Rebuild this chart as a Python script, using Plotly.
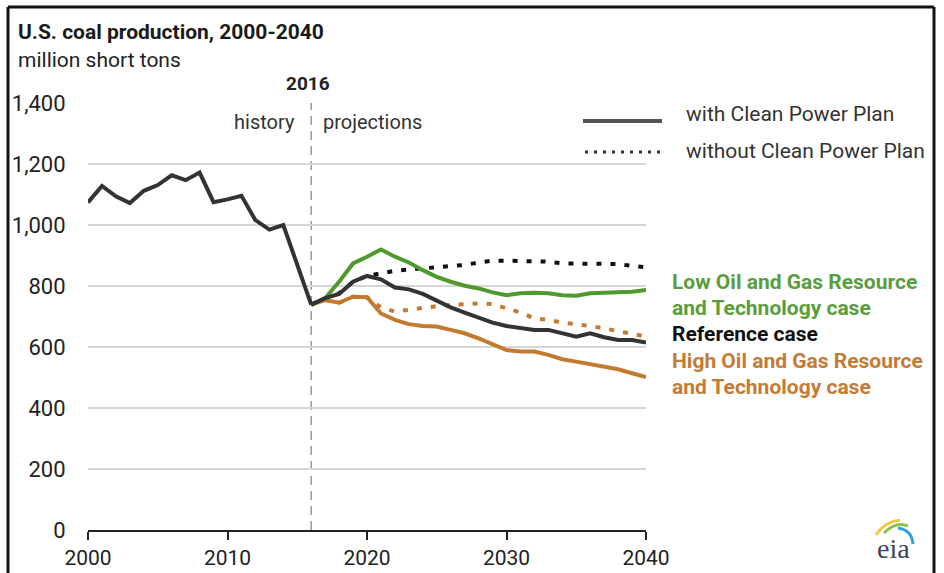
import plotly.graph_objects as go

# ---- data (million short tons) ----
hist_years = list(range(2000, 2017))
hist_values = [1074, 1128, 1094, 1072, 1112, 1131, 1163, 1147, 1172, 1075,
               1084, 1096, 1016, 985, 1000, 872, 739]

proj_years = list(range(2016, 2041))
ref_cpp = [739, 760, 774, 814, 833, 822, 795, 789, 774, 751, 730, 713, 697,
           680, 669, 661, 656, 656, 645, 634, 645, 632, 623, 623, 615]
ref_no_cpp = [739, 760, 776, 814, 833, 841, 850, 854, 858, 861, 866, 869, 877,
              883, 883, 883, 883, 880, 874, 874, 874, 874, 872, 866, 861]
low_cpp = [739, 760, 814, 874, 896, 920, 896, 877, 852, 830, 814, 801, 792,
           779, 770, 776, 778, 776, 770, 768, 776, 778, 778, 781, 787]
high_cpp = [739, 754, 745, 765, 763, 710, 689, 675, 669, 667, 656, 645, 628,
            610, 590, 585, 585, 574, 560, 552, 544, 535, 527, 514, 501]
high_no_cpp = [739, 754, 745, 765, 763, 730, 716, 723, 730, 734, 738, 741, 743,
               741, 727, 713, 694, 689, 680, 675, 669, 661, 653, 645, 634]

y_ticks = [0, 200, 400, 600, 800, 1000, 1200, 1400]
x_ticks = [2000, 2010, 2020, 2030, 2040]

GREEN = "#4f9a2c"
BLACK = "#333333"
ORANGE = "#c47a2e"
FONT = "Liberation Sans Narrow, Arial Narrow, Roboto, Liberation Sans, sans-serif"

W, H = 944, 573
L, R, T, B = 88, 646, 103, 530


def px(x):
    return (x - L) / (R - L)


def py(y):
    return (B - y) / (B - T)


fig = go.Figure()

dots = "5px,9px"
fig.add_trace(go.Scatter(x=proj_years, y=high_no_cpp, mode="lines",
                         line=dict(color=ORANGE, width=4, dash=dots)))
fig.add_trace(go.Scatter(x=proj_years, y=ref_no_cpp, mode="lines",
                         line=dict(color="#111111", width=4, dash=dots)))
fig.add_trace(go.Scatter(x=proj_years, y=high_cpp, mode="lines",
                         line=dict(color=ORANGE, width=4)))
fig.add_trace(go.Scatter(x=proj_years, y=low_cpp, mode="lines",
                         line=dict(color=GREEN, width=4)))
fig.add_trace(go.Scatter(x=proj_years, y=ref_cpp, mode="lines",
                         line=dict(color=BLACK, width=4)))
fig.add_trace(go.Scatter(x=hist_years, y=hist_values, mode="lines",
                         line=dict(color=BLACK, width=4)))

fig.update_layout(
    width=W, height=H,
    margin=dict(l=L, r=W - R, t=T, b=H - B, pad=0),
    paper_bgcolor="white", plot_bgcolor="white",
    showlegend=False,
    font=dict(family=FONT, color="#222222", size=19),
)
fig.update_xaxes(range=[2000, 2040], tickvals=x_ticks, showgrid=False,
                 showline=True, linecolor="#222222", linewidth=2,
                 ticks="outside", ticklen=8, tickwidth=2, tickcolor="#222222",
                 tickfont=dict(size=21, color="#222222"), zeroline=False,
                 automargin=False)
fig.update_yaxes(range=[0, 1400], tickvals=y_ticks, tickformat=",",
                 showgrid=True, gridcolor="#d6d6d6", gridwidth=1.5,
                 ticks="outside", ticklen=17, tickcolor="rgba(0,0,0,0)",
                 tickfont=dict(size=22, color="#222222"), zeroline=False,
                 showline=False, automargin=False)

# history / projections divider
fig.add_shape(type="line", x0=2016, x1=2016, y0=0, y1=1400, xref="x", yref="y",
              line=dict(color="#9a9a9a", width=1.5, dash="9px,6px"), layer="below")

# frame
frame = dict(color="#111111", width=3)
fig.add_shape(type="line", xref="paper", yref="paper", x0=px(8), x1=px(8),
              y0=py(7), y1=py(580), line=frame)
fig.add_shape(type="line", xref="paper", yref="paper", x0=px(8), x1=px(934),
              y0=py(7), y1=py(7), line=frame)
fig.add_shape(type="line", xref="paper", yref="paper", x0=px(934), x1=px(934),
              y0=py(7), y1=py(580), line=frame)

# legend samples
fig.add_shape(type="line", xref="paper", yref="paper", x0=px(583), x1=px(662),
              y0=py(121), y1=py(121), line=dict(color="#555555", width=4))
fig.add_shape(type="line", xref="paper", yref="paper", x0=px(585), x1=px(662),
              y0=py(152), y1=py(152), line=dict(color="#333333", width=3, dash="3px,6px"))


def note(text, x, y, size=19, color="#222222", anchor="left", bold=False, family=FONT):
    if bold:
        text = "<b>" + text + "</b>"
    fig.add_annotation(text=text, x=px(x), y=py(y), xref="paper", yref="paper",
                       xanchor=anchor, yanchor="middle", showarrow=False,
                       font=dict(size=size, color=color, family=family))


note("U.S. coal production, 2000-2040", 16, 32, size=21, color="#1a1a1a", bold=True)
note("million short tons", 16, 60, size=21)
note("2016", 308, 84, size=19, anchor="center", color="#222222", bold=True)
note("history", 297, 122, size=20, anchor="right", color="#333333")
note("projections", 321, 122, size=20, color="#333333")

note("with Clean Power Plan", 684, 114, size=21, color="#333333")
note("without Clean Power Plan", 684, 151, size=21, color="#333333")

note("Low Oil and Gas Resource", 670, 282, size=21, color="#5a9d3e", bold=True)
note("and Technology case", 670, 308, size=21, color="#5a9d3e", bold=True)
note("Reference case", 670, 334, size=21, color="#111111", bold=True)
note("High Oil and Gas Resource", 670, 361, size=21, color="#c47b35", bold=True)
note("and Technology case", 670, 387, size=21, color="#c47b35", bold=True)

# eia logo
note("eia", 893, 548, size=28, color="#3a4658", anchor="center",
     family="Liberation Serif, DejaVu Serif, serif")
swooshes = [("#f2c94c", (876, 535), (884, 522), (900, 520)),
            ("#8cc152", (884, 533), (896, 521), (908, 526)),
            ("#3aa0d8", (898, 528), (912, 530), (913, 544))]
for col, p0, pm, p1 in swooshes:
    fig.add_shape(type="path", xref="paper", yref="paper",
                  path=f"M {px(p0[0])},{py(p0[1])} Q {px(pm[0])},{py(pm[1])} {px(p1[0])},{py(p1[1])}",
                  line=dict(color=col, width=3))

fig.write_html("out.html", config={"displayModeBar": False},
               post_script="document.body.style.margin='0';")
